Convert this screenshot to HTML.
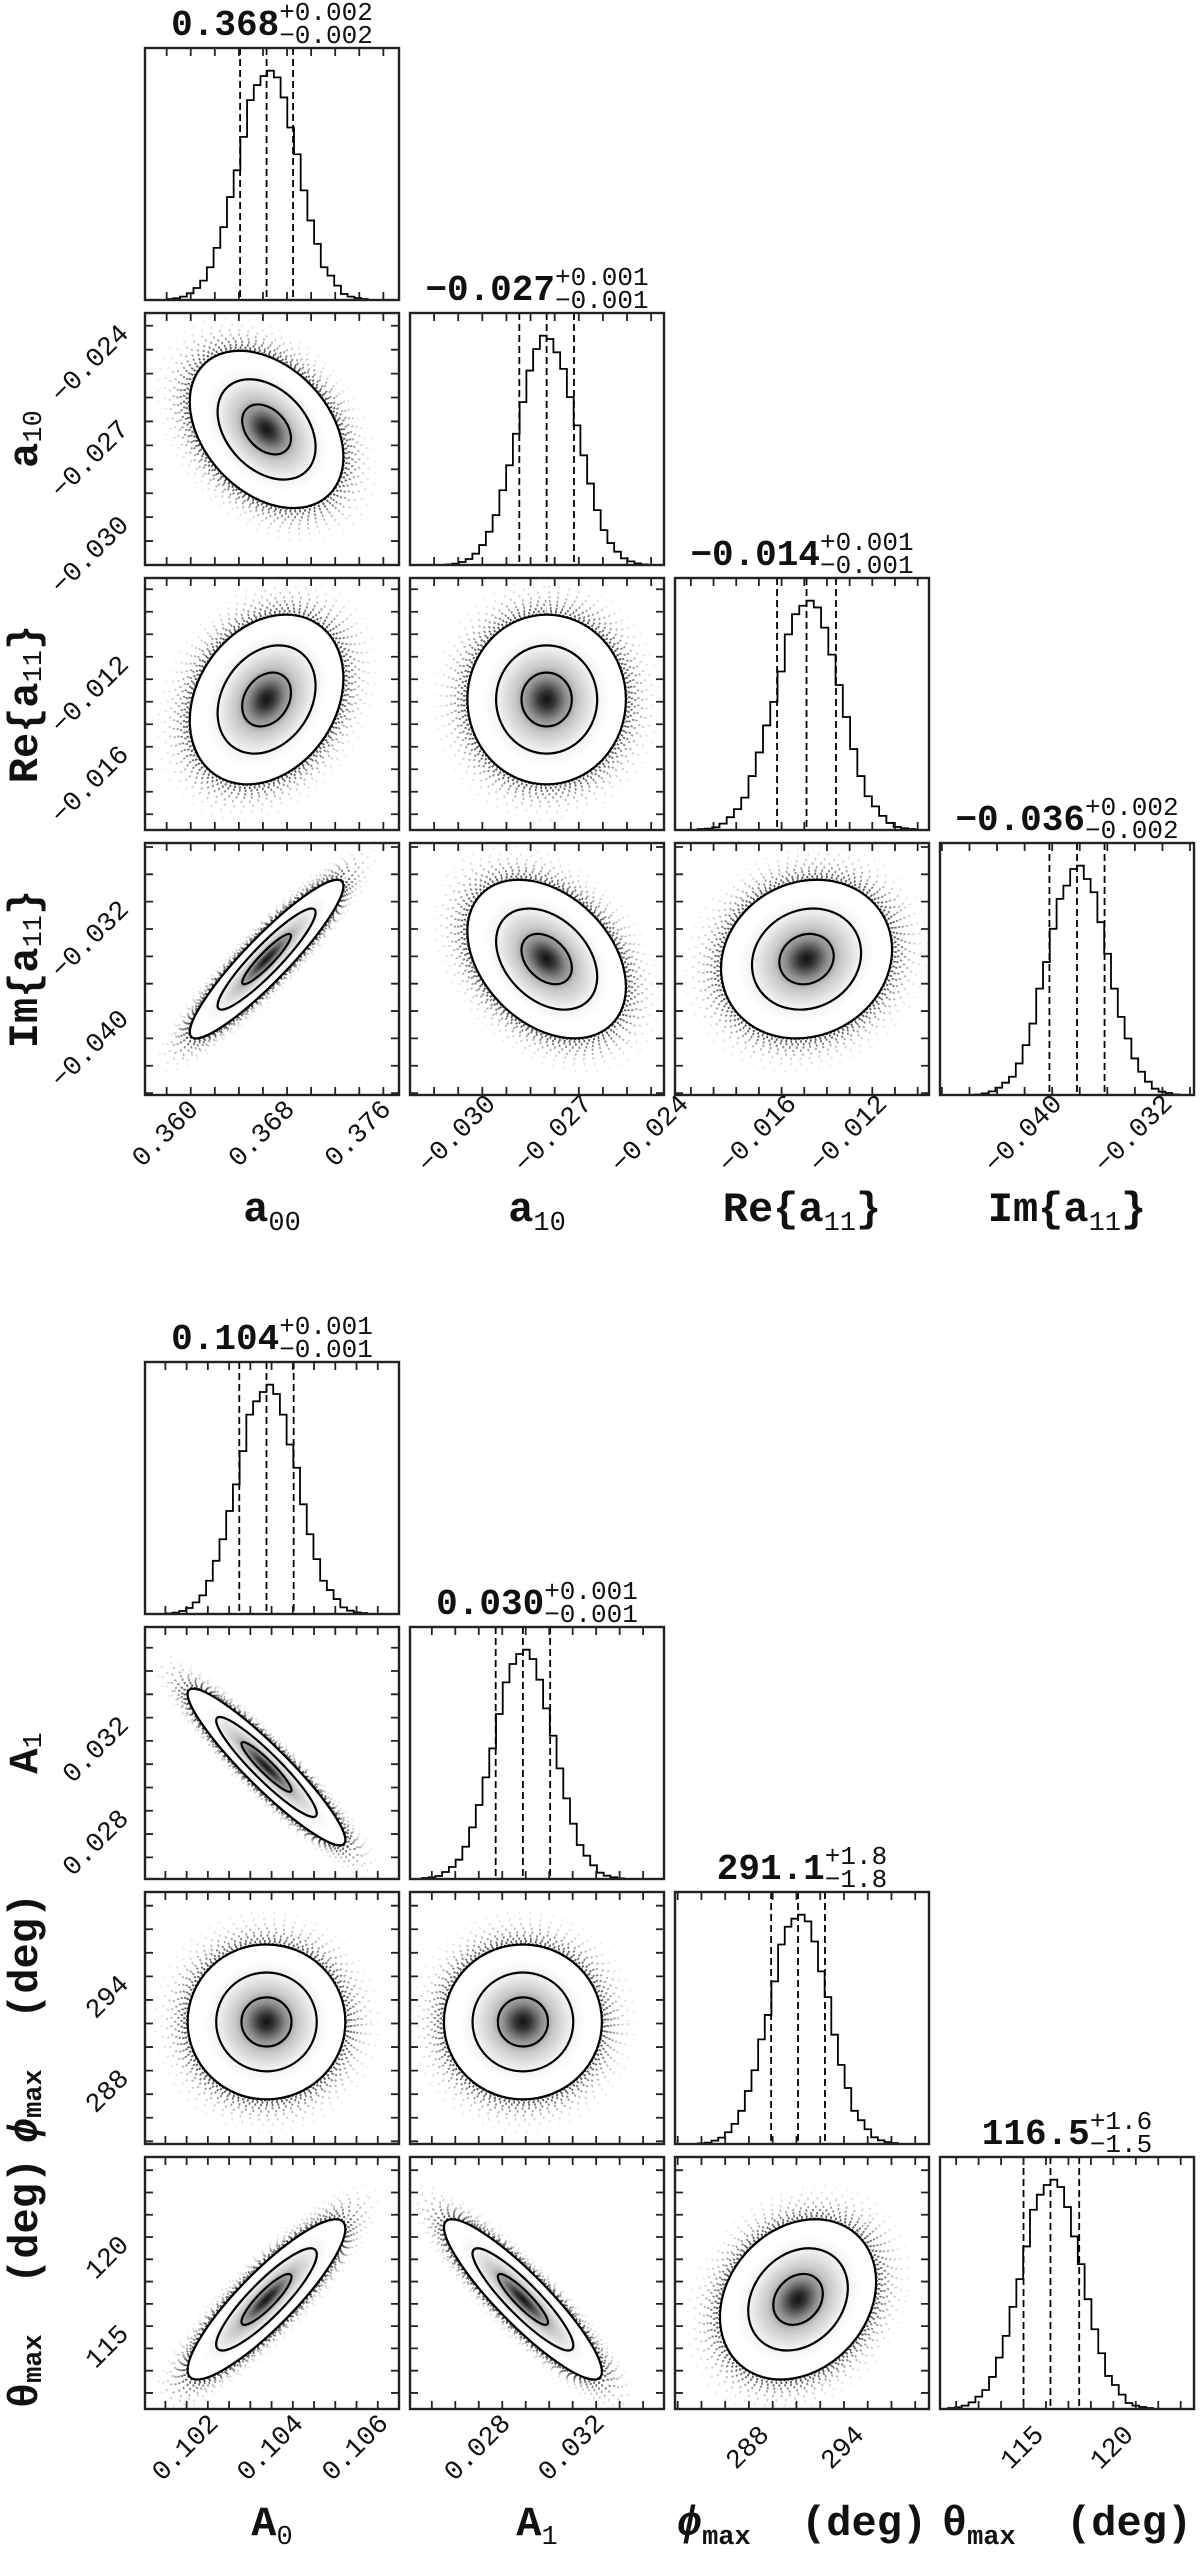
<!DOCTYPE html>
<html><head><meta charset="utf-8"><title>Corner plots</title>
<style>
html,body{margin:0;padding:0;background:#fff;}
svg{display:block;}
text{font-family:"Liberation Mono","DejaVu Sans Mono",monospace;fill:#111;}
</style></head>
<body>
<svg id="chart" xmlns="http://www.w3.org/2000/svg" width="1200" height="2553" viewBox="0 0 1200 2553">
<defs>
<radialGradient id="dens">
<stop offset="0" stop-color="#111"/>
<stop offset="0.12" stop-color="#333"/>
<stop offset="0.3" stop-color="#8a8a8a"/>
<stop offset="0.5" stop-color="#c8c8c8"/>
<stop offset="0.75" stop-color="#eeeeee"/>
<stop offset="1" stop-color="#ffffff"/>
</radialGradient>
</defs>
</svg>
<script>
// ---------- Figure 1 data ----------
const f1Main = ["a", "a", "Re{a", "Im{a"];
const f1Sub = ["00", "10", "11", "11"];
const f1Tail = ["", "", "}", "}"];
const f1Q16 = [0.3661, -0.0281, -0.0152, -0.0382];
const f1Q50 = [0.3683, -0.02725, -0.0139, -0.0362];
const f1Q84 = [0.3705, -0.0264, -0.0126, -0.0342];
const f1Min = [0.3582, -0.0315, -0.0197, -0.04614];
const f1Max = [0.3793, -0.0236, -0.0085, -0.02771];
const f1Ticks = [[0.360, 0.368, 0.376], [-0.030, -0.027, -0.024], [-0.016, -0.012], [-0.040, -0.032]];
const f1TickLabels = [["0.360", "0.368", "0.376"], ["−0.030", "−0.027", "−0.024"], ["−0.016", "−0.012"], ["−0.040", "−0.032"]];
const f1MinorStep = [0.002, 0.00075, 0.001, 0.002];
const f1HistLo = [0.3600, -0.0304, -0.0187, -0.0436];
const f1HistHi = [0.3767, -0.0241, -0.0091, -0.0288];
const f1Counts0 = [3,5,10,20,36,58,98,156,218,308,388,488,598,643,670,686,666,606,516,436,328,238,168,98,73,43,18,10,6,3];
const f1Counts1 = [2,4,9,18,34,60,100,150,225,300,395,490,585,650,690,680,640,590,505,420,330,245,165,105,66,40,20,11,5,2];
const f1Counts2 = [3,4,8,19,38,62,96,160,230,310,380,470,580,640,665,680,660,600,520,430,335,240,160,100,70,42,21,9,5,3];
const f1Counts3 = [2,5,11,22,37,55,95,150,215,320,400,500,590,630,680,690,650,610,520,425,320,235,170,110,70,40,19,10,6,2];
const f1TitleVal = ["0.368", "−0.027", "−0.014", "−0.036"];
const f1TitlePlus = ["+0.002", "+0.001", "+0.001", "+0.002"];
const f1TitleMinus = ["−0.002", "−0.001", "−0.001", "−0.002"];
const f1CorrRow = [1, 2, 2, 3, 3, 3];
const f1CorrCol = [0, 0, 1, 0, 1, 2];
const f1CorrVal = [-0.35, 0.25, 0.0, 0.92, -0.35, 0.12];

// ---------- Figure 2 data ----------
const f2Main = ["A", "A", "ϕ", "θ"];
const f2Sub = ["0", "1", "max", "max"];
const f2Tail = ["", "", "  (deg)", "  (deg)"];
const f2Q16 = [0.10324, 0.02872, 289.4, 115.0];
const f2Q50 = [0.10388, 0.02988, 291.1, 116.5];
const f2Q84 = [0.10452, 0.03104, 292.8, 118.1];
const f2Min = [0.10102, 0.02507, 283.33, 110.35];
const f2Max = [0.10700, 0.03589, 299.37, 124.49];
const f2Ticks = [[0.102, 0.104, 0.106], [0.028, 0.032], [288, 294], [115, 120]];
const f2TickLabels = [["0.102", "0.104", "0.106"], ["0.028", "0.032"], ["288", "294"], ["115", "120"]];
const f2MinorStep = [0.0005, 0.001, 1.5, 1.25];
const f2HistLo = [0.10151, 0.02558, 284.8, 110.8];
const f2HistHi = [0.10625, 0.03418, 297.4, 122.2];
const f2Counts0 = [2,4,9,18,35,56,100,160,225,310,390,490,600,640,668,690,662,600,510,440,330,240,165,100,72,45,20,10,5,3];
const f2Counts1 = [3,5,9,21,36,58,97,155,222,305,392,495,590,645,675,688,660,598,512,430,332,242,166,102,70,41,19,10,5,2];
const f2Counts2 = [2,4,10,19,35,60,99,158,220,312,385,485,595,648,672,684,664,604,515,438,326,236,167,99,71,44,20,11,6,3];
const f2Counts3 = [3,5,10,20,37,57,96,154,219,306,389,487,597,642,671,687,665,605,517,434,329,239,167,99,72,43,18,10,6,3];
const f2TitleVal = ["0.104", "0.030", "291.1", "116.5"];
const f2TitlePlus = ["+0.001", "+0.001", "+1.8", "+1.6"];
const f2TitleMinus = ["−0.001", "−0.001", "−1.8", "−1.5"];
const f2CorrRow = [1, 2, 2, 3, 3, 3];
const f2CorrCol = [0, 0, 1, 0, 1, 2];
const f2CorrVal = [-0.93, 0.0, 0.0, 0.88, -0.90, 0.22];

const NS = "http://www.w3.org/2000/svg";
const svg = document.getElementById("chart");
const W = 254, H = 252, PITCH = 265, X0 = 145;
function mk(tag, attrs, parent) {
  const e = document.createElementNS(NS, tag);
  for (const k in attrs) e.setAttribute(k, attrs[k]);
  parent.appendChild(e);
  return e;
}
function slug(s){return s.replace(/[^A-Za-z0-9]+/g,"-").replace(/^-|-$/g,"").toLowerCase();}

function drawFigure(fi, figTop, D) {
  const fig = mk("g", {}, svg);
  
  
  const n = 4;
  const names = D.main.map((m, i) => slug(m + D.sub[i] + D.tail[i]));
  for (let i = 0; i < n; i++) {
    for (let j = 0; j <= i; j++) {
      const x0 = X0 + PITCH * j, y0 = figTop + PITCH * i;
      const xs = v => x0 + (v - D.min[j]) / (D.max[j] - D.min[j]) * W;
      const ys = v => y0 + H - (v - D.min[i]) / (D.max[i] - D.min[i]) * H;
      const g = mk("g", {}, fig);
      
      
      const cid = "clip" + fi + i + j;
      const cp = mk("clipPath", {id: cid}, g);
      mk("rect", {x: x0, y: y0, width: W, height: H}, cp);
      const inner = mk("g", {"clip-path": "url(#" + cid + ")"}, g);
      if (i === j) {
        const c = D.counts[i];
        const mx = Math.max.apply(null, c);
        const bw = (D.hhi[i] - D.hlo[i]) / c.length;
        let d = "M" + xs(D.hlo[i]) + "," + (y0 + H);
        for (let k = 0; k < c.length; k++) {
          const yy = y0 + H - c[k] / mx * 0.91 * H;
          d += " V" + yy.toFixed(2) + " H" + xs(D.hlo[i] + (k + 1) * bw).toFixed(2);
        }
        d += " V" + (y0 + H);
        const p = mk("path", {d: d, fill: "none", stroke: "#000", "stroke-width": 1.8}, inner);
        
        
        const qs = [D.q16[i], D.q50[i], D.q84[i]];
        const qn = ["q16", "median", "q84"];
        for (let q = 0; q < 3; q++) {
          const l = mk("line", {x1: xs(qs[q]), x2: xs(qs[q]), y1: y0, y2: y0 + H, stroke: "#000", "stroke-width": 1.8, "stroke-dasharray": "7 4"}, inner);
          
          
        }
        const tg = mk("g", {}, g);
        
        
        const t1 = mk("text", {x: 0, y: y0 - 13, "font-size": 36, "font-weight": "bold"}, tg);
        t1.textContent = D.tval[i];
        const t2 = mk("text", {x: 0, y: y0 - 28, "font-size": 26}, tg);
        t2.textContent = D.tplus[i];
        const t3 = mk("text", {x: 0, y: y0 - 5, "font-size": 26}, tg);
        t3.textContent = D.tminus[i];
        const w1 = t1.getComputedTextLength();
        const w2 = Math.max(t2.getComputedTextLength(), t3.getComputedTextLength());
        const sx = x0 + W / 2 - (w1 + w2) / 2;
        t1.setAttribute("x", sx);
        t2.setAttribute("x", sx + w1);
        t3.setAttribute("x", sx + w1);
      } else {
        let rho = 0;
        for (let k = 0; k < D.crow.length; k++) if (D.crow[k] === i && D.ccol[k] === j) rho = D.cval[k];
        const sxp = (D.q84[j] - D.q16[j]) / 2 * W / (D.max[j] - D.min[j]);
        const syp = (D.q84[i] - D.q16[i]) / 2 * H / (D.max[i] - D.min[i]);
        const a = sxp * sxp, dd = syp * syp, b = -rho * sxp * syp;
        const mid = (a + dd) / 2, rad = Math.sqrt(((a - dd) / 2) ** 2 + b * b);
        const l1 = mid + rad, l2 = Math.max(mid - rad, 1e-6);
        const ang = 0.5 * Math.atan2(2 * b, a - dd) * 180 / Math.PI;
        const cx = xs(D.q50[j]), cy = ys(D.q50[i]);
        const R1 = Math.sqrt(l1), R2 = Math.sqrt(l2);
        const rot = "rotate(" + ang.toFixed(2) + " " + cx.toFixed(2) + " " + cy.toFixed(2) + ")";
        const ringR = [2.92, 3.02, 3.12, 3.24, 3.36, 3.5, 3.66, 3.85, 4.1];
        const ringO = [0.85, 0.75, 0.65, 0.55, 0.42, 0.32, 0.22, 0.14, 0.08];
        for (let k = 0; k < ringR.length; k++) {
          const e = mk("ellipse", {cx: cx, cy: cy, rx: R1 * ringR[k], ry: R2 * ringR[k], transform: rot, fill: "none", stroke: "#222", "stroke-opacity": ringO[k], "stroke-width": 2.4, "stroke-dasharray": "1.8 " + (2.2 + k * 0.9), "stroke-dashoffset": k * 1.3}, inner);
          
          
        }
        const lv = [2.9, 1.85, 0.92];
        const outer = mk("ellipse", {cx: cx, cy: cy, rx: R1 * lv[0], ry: R2 * lv[0], transform: rot, fill: "#fff", stroke: "#000", "stroke-width": 2.2}, inner);
        
        
        const dens = mk("ellipse", {cx: cx, cy: cy, rx: R1 * 2.3, ry: R2 * 2.3, transform: rot, fill: "url(#dens)"}, inner);
        
        
        for (let k = 1; k < lv.length; k++) {
          const e = mk("ellipse", {cx: cx, cy: cy, rx: R1 * lv[k], ry: R2 * lv[k], transform: rot, fill: "none", stroke: "#000", "stroke-width": 2.2}, inner);
          
          
        }
      }
      const fr = mk("rect", {x: x0, y: y0, width: W, height: H, fill: "none", stroke: "#222", "stroke-width": 2.4}, g);
      
      
      let td = "";
      const tx = [];
      const st = D.minor[j], t0 = D.ticks[j][0];
      for (let k = -40; k <= 40; k++) { const v = t0 + k * st; if (v > D.min[j] + st * 0.05 && v < D.max[j] - st * 0.05) tx.push(xs(v)); }
      tx.forEach(x => { td += "M" + x.toFixed(2) + "," + (y0 + H) + "v-8M" + x.toFixed(2) + "," + y0 + "v8"; });
      if (i !== j) {
        const sty = D.minor[i], ty0 = D.ticks[i][0];
        for (let k = -40; k <= 40; k++) { const v = ty0 + k * sty; if (v > D.min[i] + sty * 0.05 && v < D.max[i] - sty * 0.05) { const y = ys(v).toFixed(2); td += "M" + x0 + "," + y + "h8M" + (x0 + W) + "," + y + "h-8"; } }
      }
      const tk = mk("path", {d: td, stroke: "#222", "stroke-width": 1.8, fill: "none"}, g);
      
      
      if (i === n - 1) {
        for (let k = 0; k < D.ticks[j].length; k++) {
          const x = xs(D.ticks[j][k]), y = y0 + H + 40;
          const t = mk("text", {x: x, y: y, "font-size": 27, "text-anchor": "middle", "dominant-baseline": "central", transform: "rotate(-45 " + x.toFixed(2) + " " + y + ")"}, g);
          t.textContent = D.tlab[j][k];
          
          
        }
      }
      if (j === 0 && i > 0) {
        for (let k = 0; k < D.ticks[i].length; k++) {
          const x = x0 - 15, y = ys(D.ticks[i][k]) + 9;
          const t = mk("text", {x: x, y: y.toFixed(2), "font-size": 27, "text-anchor": "end", transform: "rotate(-45 " + x + " " + y.toFixed(2) + ")"}, g);
          t.textContent = D.tlab[i][k];
          
          
        }
      }
    }
  }
  function label(k, x, y, rotate) {
    const attrs = {x: x, y: y, "font-size": 42, "font-weight": "bold", "text-anchor": "middle"};
    if (rotate) { attrs.transform = "rotate(-90 " + x + " " + y + ")"; attrs["dominant-baseline"] = "central"; }
    const t = mk("text", attrs, fig);
    const s1 = mk("tspan", {}, t);
    s1.textContent = D.main[k];
    if (D.main[k] === "ϕ") s1.setAttribute("font-style", "italic");
    const s2 = mk("tspan", {"font-size": 27, dy: 9, "font-weight": D.sub[k] === "max" ? "bold" : "normal"}, t);
    s2.textContent = D.sub[k];
    if (D.tail[k]) { const s3 = mk("tspan", {dy: -9}, t); s3.setAttribute("style", "white-space:pre"); s3.textContent = D.tail[k]; }
    return t;
  }
  for (let k = 0; k < n; k++) {
    const t = label(k, X0 + PITCH * k + W / 2, figTop + PITCH * (n - 1) + H + 126, false);
    
    
  }
  for (let k = 1; k < n; k++) {
    const t = label(k, 26, figTop + PITCH * k + H / 2, true);
    
    
  }
}

drawFigure(0, 48, {main: f1Main, sub: f1Sub, tail: f1Tail, q16: f1Q16, q50: f1Q50, q84: f1Q84, min: f1Min, max: f1Max, ticks: f1Ticks, tlab: f1TickLabels, minor: f1MinorStep, hlo: f1HistLo, hhi: f1HistHi, counts: [f1Counts0, f1Counts1, f1Counts2, f1Counts3], tval: f1TitleVal, tplus: f1TitlePlus, tminus: f1TitleMinus, crow: f1CorrRow, ccol: f1CorrCol, cval: f1CorrVal});
drawFigure(1, 1362, {main: f2Main, sub: f2Sub, tail: f2Tail, q16: f2Q16, q50: f2Q50, q84: f2Q84, min: f2Min, max: f2Max, ticks: f2Ticks, tlab: f2TickLabels, minor: f2MinorStep, hlo: f2HistLo, hhi: f2HistHi, counts: [f2Counts0, f2Counts1, f2Counts2, f2Counts3], tval: f2TitleVal, tplus: f2TitlePlus, tminus: f2TitleMinus, crow: f2CorrRow, ccol: f2CorrCol, cval: f2CorrVal});
</script>
</body></html>
